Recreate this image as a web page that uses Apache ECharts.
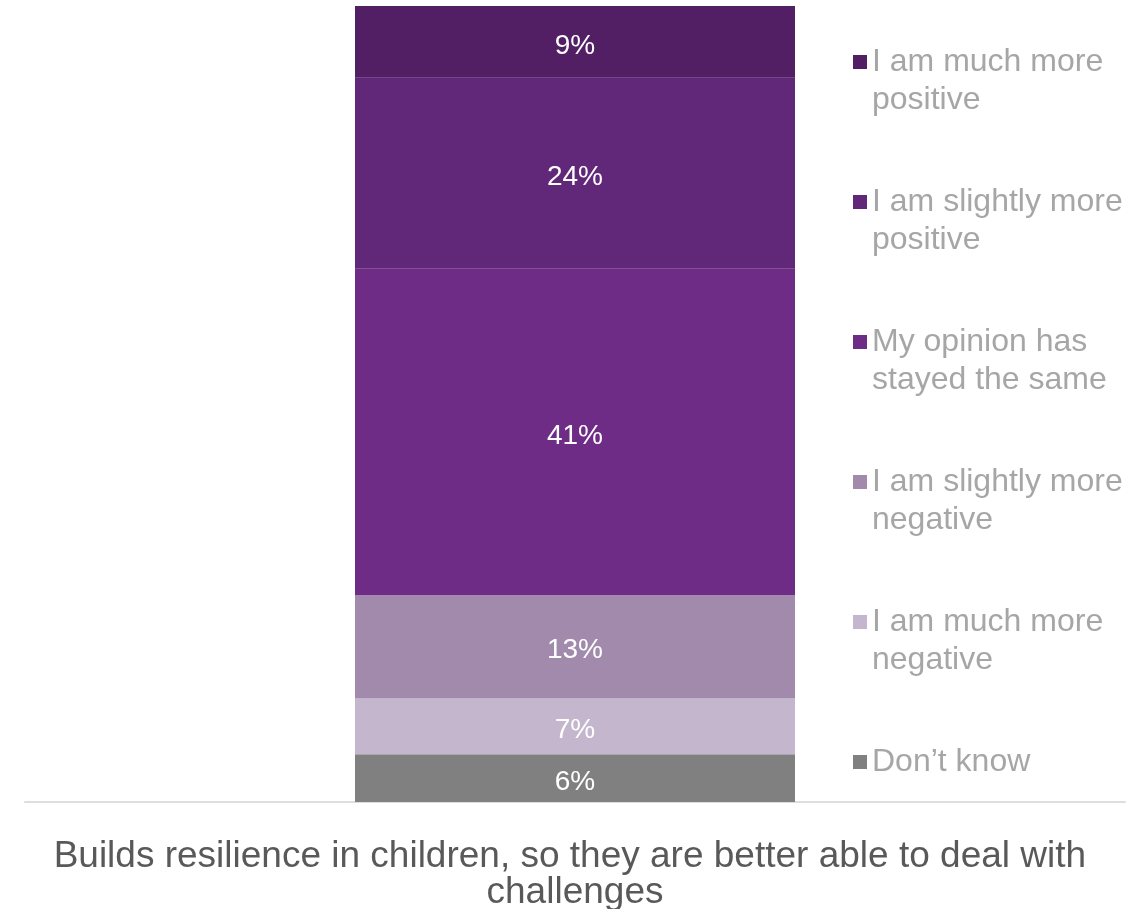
<!DOCTYPE html>
<html>
<head>
<meta charset="utf-8">
<title>Builds resilience in children</title>
<script src="https://cdn.jsdelivr.net/npm/echarts@6/dist/echarts.min.js"></script>
<style>
  html, body { margin: 0; padding: 0; background: #ffffff; }
  #chart { width: 1145px; height: 909px; }
</style>
</head>
<body>
<div id="chart"></div>
<script>
// Statement being rated (single stacked column)
const categories = ['Builds resilience in children, so they are better able to deal with challenges'];

// Response options, listed from the top of the column downwards
const seriesNames = [
  'I am much more positive',
  'I am slightly more positive',
  'My opinion has stayed the same',
  'I am slightly more negative',
  'I am much more negative',
  'Don\u2019t know'
];

// Share of respondents (%), same order as seriesNames
const muchMorePositive = [9];
const slightlyMorePositive = [24];
const stayedSame = [41];
const slightlyMoreNegative = [13];
const muchMoreNegative = [7];
const dontKnow = [6];

// Two-line legend wording
const legendLines = {
  'I am much more positive': ['I am much more', 'positive'],
  'I am slightly more positive': ['I am slightly more', 'positive'],
  'My opinion has stayed the same': ['My opinion has', 'stayed the same'],
  'I am slightly more negative': ['I am slightly more', 'negative'],
  'I am much more negative': ['I am much more', 'negative'],
  'Don\u2019t know': ['Don\u2019t know', '']
};

const colors = {
  'I am much more positive': '#521F64',
  'I am slightly more positive': '#612779',
  'My opinion has stayed the same': '#6F2C87',
  'I am slightly more negative': '#A28AAD',
  'I am much more negative': '#C4B6CC',
  'Don\u2019t know': '#808080'
};

const FONT = '"Liberation Sans", Arial, Helvetica, sans-serif';

// Stack from the bottom up
const stackOrder = [
  ['Don\u2019t know', dontKnow],
  ['I am much more negative', muchMoreNegative],
  ['I am slightly more negative', slightlyMoreNegative],
  ['My opinion has stayed the same', stayedSame],
  ['I am slightly more positive', slightlyMorePositive],
  ['I am much more positive', muchMorePositive]
];

const series = stackOrder.map(([name, values]) => ({
  name: name,
  type: 'bar',
  stack: 'total',
  barWidth: 440,
  data: values,
  itemStyle: { color: colors[name] },
  label: {
    show: true,
    position: 'inside',
    offset: [0, 4],
    formatter: '{c}%',
    color: '#ffffff',
    fontFamily: FONT,
    fontSize: 28
  },
  emphasis: { disabled: true }
}));

const chart = echarts.init(document.getElementById('chart'), null, { renderer: 'canvas' });

chart.setOption({
  animation: false,
  backgroundColor: '#ffffff',
  grid: { left: 25, right: 20, top: 6, bottom: 107, containLabel: false, outerBoundsMode: 'none' },
  xAxis: {
    type: 'category',
    data: categories,
    axisLine: { show: true, lineStyle: { color: '#dedede', width: 2 } },
    axisTick: { show: false },
    axisLabel: {
      margin: 37,
      color: '#595959',
      fontFamily: FONT,
      fontSize: 37,
      lineHeight: 36,
      width: 1090,
      overflow: 'break',
      interval: 0
    }
  },
  yAxis: {
    type: 'value',
    min: 0,
    max: 100,
    show: false,
    splitLine: { show: false }
  },
  legend: {
    orient: 'vertical',
    left: 848,
    top: 0,
    itemWidth: 14,
    itemHeight: 14,
    itemGap: 26,
    icon: 'rect',
    selectedMode: false,
    data: seriesNames,
    // blank first line keeps the marker level with the first text line
    formatter: function (name) {
      const l = legendLines[name];
      return '\n' + l[0] + '\n' + l[1];
    },
    textStyle: {
      color: '#a6a6a6',
      fontFamily: FONT,
      fontSize: 32,
      lineHeight: 38
    }
  },
  series: series
});
</script>
</body>
</html>
